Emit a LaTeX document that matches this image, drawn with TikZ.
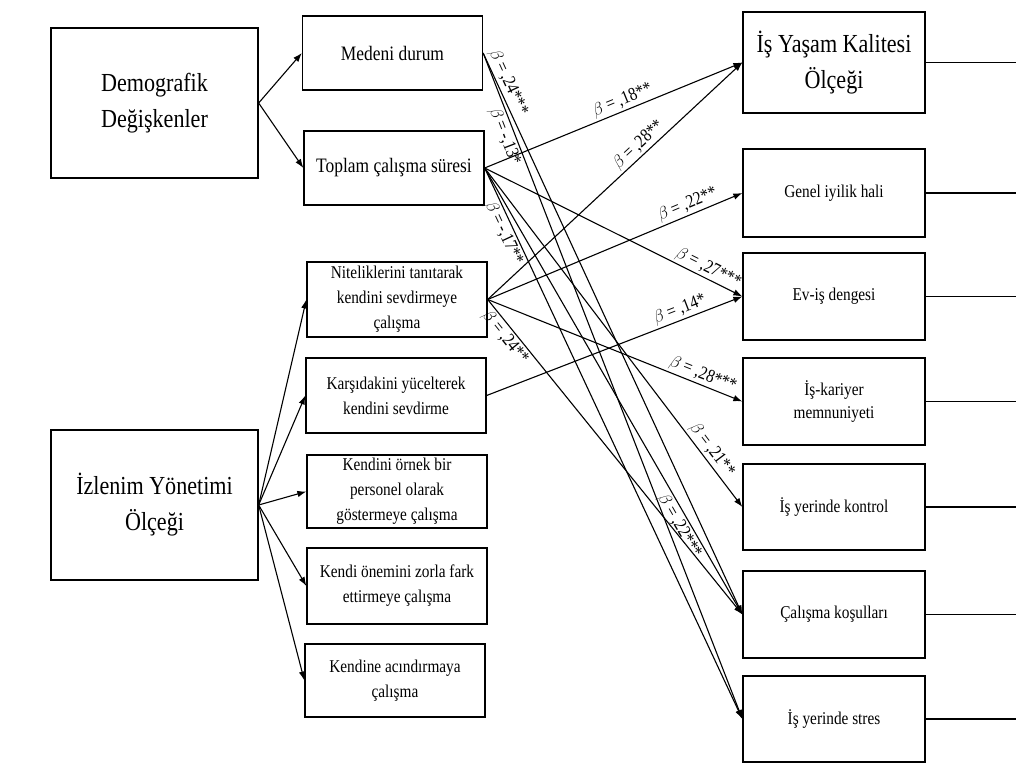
\documentclass[tikz,border=0pt]{standalone}
\usepackage{fontspec}
\setmainfont{Liberation Serif}[FakeStretch=0.85]
\usetikzlibrary{arrows.meta}

\begin{document}
\begin{tikzpicture}[x=1pt,y=-1pt,
    >={Latex[length=9pt,width=6.5pt]},
    line width=1.1pt,
    box/.style={draw,line width=1.3pt,inner sep=0pt,align=center},
    bigbox/.style={box,minimum width=207pt,minimum height=150pt,font=\fontsize{26}{36}\selectfont},
    midbox/.style={box,minimum width=180pt,minimum height=74pt,font=\fontsize{20.5}{26}\selectfont},
    leftbox/.style={box,minimum width=180pt,minimum height=75pt,font=\fontsize{18}{25}\selectfont},
    rightbox/.style={box,minimum width=182pt,minimum height=87pt,font=\fontsize{18}{23}\selectfont},
    beta/.style={sloped,inner sep=2pt,font=\fontsize{18.5}{20}\selectfont}]
  \useasboundingbox (0,0) rectangle (1016,765);
  \coordinate (rim) at (1016,0);
  \draw
    (154.5,103) node[bigbox] (dem){Demografik\\Değişkenler}
    (154.5,505) node[bigbox] (izl){İzlenim Yönetimi\\Ölçeği}
    (392.5,53) node[midbox] (med){Medeni durum}
    (394,168) node[midbox] (top){Toplam çalışma süresi}
    (397,299.5) node[leftbox] (nit){Niteliklerini tanıtarak\\kendini sevdirmeye\\çalışma}
    (396,395.5) node[leftbox] (kar){Karşıdakini yücelterek\\kendini sevdirme}
    (397,491.5) node[leftbox,minimum height=73pt] (orn){Kendini örnek bir\\personel olarak\\göstermeye çalışma}
    (397,586) node[leftbox,minimum height=76pt] (onem){Kendi önemini zorla fark\\ettirmeye çalışma}
    (395,680.5) node[leftbox,minimum height=73pt] (acin){Kendine acındırmaya\\çalışma}
    (834,62.5) node[rightbox,minimum height=101pt,font=\fontsize{26}{36}\selectfont] (iys){İş Yaşam Kalitesi\\Ölçeği}
    (834,193) node[rightbox,minimum height=88pt] (gen){Genel iyilik hali}
    (834,296.5) node[rightbox] (evis){Ev-iş dengesi}
    (834,401.5) node[rightbox] (kkar){İş-kariyer\\memnuniyeti}
    (834,507) node[rightbox,minimum height=86pt] (kont){İş yerinde kontrol}
    (834,614.5) node[rightbox] (kos){Çalışma koşulları}
    (834,719) node[rightbox,minimum height=86pt] (stres){İş yerinde stres};
  % alt boyutlar
  \begin{scope}[->]
    \draw (dem.east) to (med.west);
    \draw (dem.east) to (top.west);
    \draw (izl.east) to (nit.west);
    \draw (izl.east) to (kar.west);
    \draw (izl.east) to (orn.west);
    \draw (izl.east) to (onem.west);
    \draw (izl.east) to (acin.west);
  \end{scope}
  % beta yollari
  \begin{scope}[->]
    \draw (top.east) to node[beta,above,pos=.55]{$\beta$ = ,18**} (iys.west);
    \draw (nit.east) to node[beta,above,pos=.62]{$\beta$ = ,28**} (iys.west);
    \draw (nit.east) to node[beta,above,pos=.8]{$\beta$ = ,22**} (gen.west);
    \draw (top.east) to node[beta,above,pos=.85]{$\beta$ = ,27***} (evis.west);
    \draw (kar.east) to node[beta,above,pos=.77]{$\beta$ = ,14*} (evis.west);
    \draw (nit.east) to node[beta,above,pos=.83]{$\beta$ = ,28***} (kkar.west);
    \draw (top.east) to node[beta,above,pos=.85]{$\beta$ = ,21**} (kont.west);
    \draw (med.east) to node[beta,above,pos=.06]{$\beta$ = ,24***} (kos.west);
    \draw (med.east) to node[beta,below,pos=.12]{$\beta$ = -,13*} (stres.west);
    \draw (top.east) to node[beta,below,pos=.79]{$\beta$ = ,22***} (kos.west);
    \draw (top.east) to node[beta,below,pos=.11]{$\beta$ = -,17**} (stres.west);
    \draw (nit.east) to node[beta,below,pos=.1]{$\beta$ = ,24**} (kos.west);
  \end{scope}
  % sag kenar cizgileri
  \draw (iys.east) -- (iys.east -| rim);
  \draw (gen.east) -- (gen.east -| rim);
  \draw (evis.east) -- (evis.east -| rim);
  \draw (kkar.east) -- (kkar.east -| rim);
  \draw (kont.east) -- (kont.east -| rim);
  \draw (kos.east) -- (kos.east -| rim);
  \draw (stres.east) -- (stres.east -| rim);
\end{tikzpicture}
\end{document}
